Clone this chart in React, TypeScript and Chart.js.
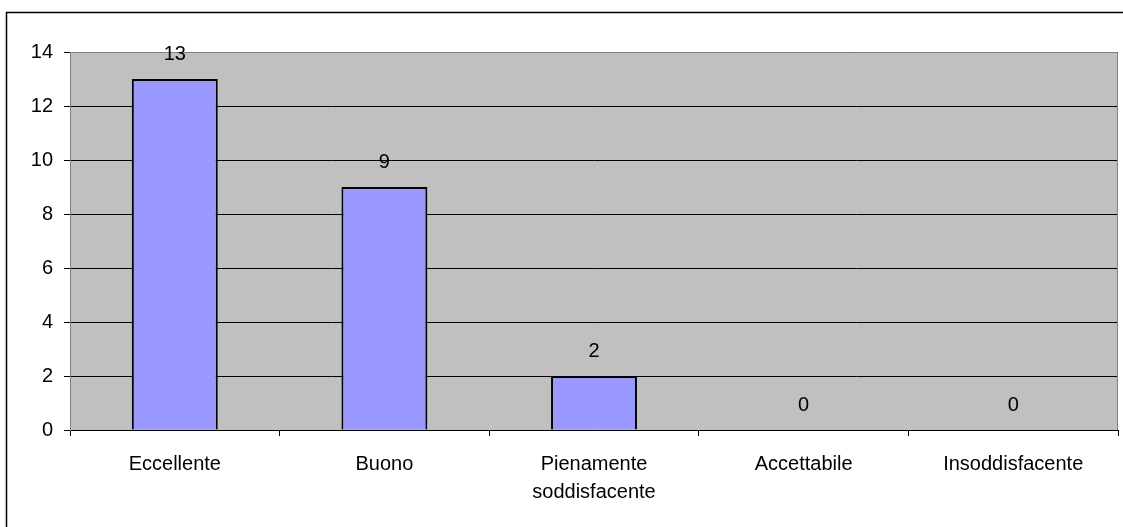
import React, { useEffect, useRef } from "react";
import { Chart, registerables } from "chart.js";

Chart.register(...registerables);

const categories: (string | string[])[] = [
  "Eccellente",
  "Buono",
  ["Pienamente", "soddisfacente"],
  "Accettabile",
  "Insoddisfacente",
];
const values: number[] = [13, 9, 2, 0, 0];
const yTicks: number[] = [0, 2, 4, 6, 8, 10, 12, 14];

const FONT = "'Liberation Sans', Arial, sans-serif";

const decorPlugin = {
  id: "decor",
  beforeDraw(chart: any) {
    const { ctx, chartArea } = chart;
    ctx.save();
    ctx.fillStyle = "#C0C0C0";
    ctx.fillRect(chartArea.left, chartArea.top, chartArea.right - chartArea.left, chartArea.bottom - chartArea.top);
    ctx.restore();
  },
  afterDraw(chart: any) {
    const { ctx, chartArea } = chart;
    ctx.save();
    // plot area border (top and right)
    ctx.strokeStyle = "#808080";
    ctx.lineWidth = 1;
    ctx.beginPath();
    ctx.moveTo(chartArea.left, chartArea.top + 0.5);
    ctx.lineTo(chartArea.right - 0.5, chartArea.top + 0.5);
    ctx.lineTo(chartArea.right - 0.5, chartArea.bottom);
    ctx.stroke();
    // outer frame
    ctx.strokeStyle = "#000";
    ctx.lineWidth = 1.5;
    ctx.beginPath();
    ctx.moveTo(6.5, chart.height + 5);
    ctx.lineTo(6.5, 12.5);
    ctx.lineTo(chart.width + 5, 12.5);
    ctx.stroke();
    // data labels
    const meta = chart.getDatasetMeta(0);
    ctx.fillStyle = "#000";
    ctx.font = `20px ${FONT}`;
    ctx.textAlign = "center";
    ctx.textBaseline = "alphabetic";
    meta.data.forEach((bar: any, i: number) => {
      ctx.fillText(String(values[i]), bar.x, bar.y - 19);
    });
    ctx.restore();
  },
};

export default function App() {
  const ref = useRef<HTMLCanvasElement>(null);
  useEffect(() => {
    if (!ref.current) return;
    const chart = new Chart(ref.current, {
      type: "bar",
      data: {
        labels: categories,
        datasets: [
          {
            data: values,
            backgroundColor: "#9999FF",
            borderColor: "#000000",
            borderWidth: 2,
            barPercentage: 0.41,
            categoryPercentage: 1,
          },
        ],
      },
      options: {
        responsive: false,
        animation: false,
        layout: { padding: { left: 0, top: 52, right: 5, bottom: 0 } },
        plugins: { legend: { display: false }, tooltip: { enabled: false } },
        scales: {
          x: {
            offset: true,
            grid: {
              offset: true,
              drawOnChartArea: false,
              drawTicks: true,
              tickLength: 6,
              tickColor: "#000",
              color: "#000",
            },
            border: { color: "#000", width: 1 },
            ticks: {
              color: "#000",
              font: { family: FONT, size: 20, lineHeight: 1.4 },
              padding: 14,
              maxRotation: 0,
              autoSkip: false,
            },
            afterFit(scale: any) {
              scale.height = 97;
            },
          },
          y: {
            min: 0,
            max: 14,
            afterBuildTicks(scale: any) {
              scale.ticks = yTicks.map((v) => ({ value: v }));
            },
            grid: {
              color: "#000",
              lineWidth: 1,
              tickLength: 6,
              tickColor: "#000",
            },
            border: { color: "#808080", width: 1 },
            ticks: {
              color: "#000",
              font: { family: FONT, size: 20 },
              padding: 11,
            },
            afterFit(scale: any) {
              scale.width = 70;
            },
          },
        },
      },
      plugins: [decorPlugin],
    });
    return () => chart.destroy();
  }, []);
  return (
    <div style={{ position: "absolute", left: 0, top: 0, width: 1123, height: 527, background: "#fff" }}>
      <canvas ref={ref} width={1123} height={527} style={{ display: "block" }} />
    </div>
  );
}
